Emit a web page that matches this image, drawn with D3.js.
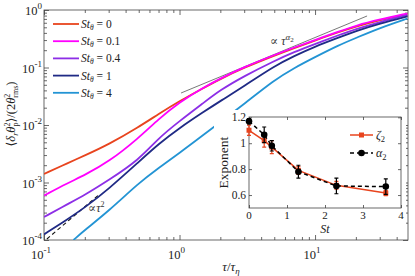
<!DOCTYPE html>
<html>
<head>
<meta charset="utf-8">
<script src="https://cdn.jsdelivr.net/npm/d3@7"></script>
<style>
  body { margin: 0; background: #fff; }
  svg { display: block; font-family: "Liberation Serif", "DejaVu Serif", serif; }
</style>
</head>
<body>
<script>
// time lags tau / tau_eta
var tau = [0.1, 0.15, 0.2, 0.3, 0.5, 0.7, 1, 1.5, 2, 3, 5, 7, 10, 15, 20, 30, 48];
var st0  = [1.41e-3, 2.18e-3, 2.95e-3, 4.58e-3, 9.23e-3, 1.55e-2, 2.61e-2, 4.40e-2, 6.31e-2, 0.0995, 0.161, 0.218, 0.295, 0.414, 0.516, 0.670, 0.851];
var st01 = [5.94e-4, 9.8e-4, 1.35e-3, 2.28e-3, 5.94e-3, 1.27e-2, 2.51e-2, 4.49e-2, 6.44e-2, 0.102, 0.165, 0.223, 0.301, 0.423, 0.537, 0.684, 0.869];
var st04 = [2.51e-4, 4.23e-4, 6.07e-4, 1.10e-3, 2.46e-3, 5.94e-3, 1.17e-2, 2.42e-2, 4.06e-2, 7.11e-2, 0.130, 0.186, 0.256, 0.367, 0.468, 0.618, 0.818];
var st1  = [1.25e-4, 2.32e-4, 3.67e-4, 7.70e-4, 2.28e-3, 4.68e-3, 8.87e-3, 1.68e-2, 2.61e-2, 4.76e-2, 0.106, 0.158, 0.232, 0.333, 0.432, 0.582, 0.771];
// St = 4 enters the plot later
var tau4 = [0.165, 0.2, 0.3, 0.5, 0.7, 1, 1.5, 2, 3, 5, 7, 10, 15, 20, 30, 48];
var st4  = [1e-4, 1.49e-4, 3.19e-4, 9.8e-4, 1.79e-3, 3.26e-3, 6.70e-3, 1.13e-2, 2.32e-2, 6.07e-2, 9.8e-2, 0.152, 0.246, 0.326, 0.486, 0.711];

var legendLabels = ["0", "0.1", "0.4", "1", "4"];
var colors = ["#e8441e", "#ff00ff", "#8d2ee6", "#1f2a85", "#2394d4"];

// guide lines
var tauSlope2 = [0.105, 0.26];
var valSlope2 = [1.04e-4, 6.4e-4];
var tauAlpha = [1.026, 24.2];
var valAlpha = [0.036, 0.787];

var xMajor = [0.1, 1, 10];
var xMajorExp = ["-1", "0", "1"];
var yMajor = [1e-4, 1e-3, 1e-2, 1e-1, 1];
var yMajorExp = ["-4", "-3", "-2", "-1", "0"];

// inset: exponents vs St
var stInset = [0, 0.4, 0.6, 1.3, 2.3, 3.6];
var zeta2 = [1.10, 1.02, 0.97, 0.79, 0.675, 0.615];
var zeta2Err = [0.04, 0.05, 0.05, 0.03, 0.03, 0.02];
var alpha2 = [1.17, 1.065, 0.98, 0.78, 0.67, 0.665];
var alpha2Err = [0.02, 0.06, 0.04, 0.05, 0.06, 0.06];
var insetXTicks = [0, 1, 2, 3, 4];
var insetYTicks = [0.6, 0.8, 1, 1.2];

var W = 415, H = 276;
var L = 44, R = 408, T = 10, B = 240;

var svg = d3.select("body").append("svg")
    .attr("width", W)
    .attr("height", H);

var x = d3.scaleLog().domain([0.1, 48.5]).range([L, R]);
var y = d3.scaleLog().domain([1e-4, 1]).range([B, T]);

// minor ticks in every decade
var xMinor = [], yMinor = [];
[0.1, 1, 10].forEach(function(d) {
    for (var k = 2; k <= 9; k++) if (d * k < 48.5) xMinor.push(d * k);
});
[1e-4, 1e-3, 1e-2, 1e-1].forEach(function(d) {
    for (var k = 2; k <= 9; k++) yMinor.push(d * k);
});

svg.append("clipPath").attr("id", "clip")
    .append("rect").attr("x", L).attr("y", T).attr("width", R - L).attr("height", B - T);

var axisColor = "#444";

function ticks(g) {
    g.select(".domain").remove();
    g.selectAll("line").attr("stroke", axisColor).attr("stroke-width", 0.8);
}

svg.append("g").attr("transform", "translate(0," + B + ")")
    .call(d3.axisBottom(x).tickValues(xMajor).tickSize(-5).tickFormat("")).call(ticks);
svg.append("g").attr("transform", "translate(0," + B + ")")
    .call(d3.axisBottom(x).tickValues(xMinor).tickSize(-3).tickFormat("")).call(ticks);
svg.append("g").attr("transform", "translate(0," + T + ")")
    .call(d3.axisTop(x).tickValues(xMajor).tickSize(-5).tickFormat("")).call(ticks);
svg.append("g").attr("transform", "translate(0," + T + ")")
    .call(d3.axisTop(x).tickValues(xMinor).tickSize(-3).tickFormat("")).call(ticks);
svg.append("g").attr("transform", "translate(" + L + ",0)")
    .call(d3.axisLeft(y).tickValues(yMajor).tickSize(-5).tickFormat("")).call(ticks);
svg.append("g").attr("transform", "translate(" + L + ",0)")
    .call(d3.axisLeft(y).tickValues(yMinor).tickSize(-3).tickFormat("")).call(ticks);
svg.append("g").attr("transform", "translate(" + R + ",0)")
    .call(d3.axisRight(y).tickValues(yMajor).tickSize(-5).tickFormat("")).call(ticks);
svg.append("g").attr("transform", "translate(" + R + ",0)")
    .call(d3.axisRight(y).tickValues(yMinor).tickSize(-3).tickFormat("")).call(ticks);

svg.append("rect")
    .attr("x", L).attr("y", T).attr("width", R - L).attr("height", B - T)
    .attr("fill", "none").attr("stroke", axisColor).attr("stroke-width", 0.8);

// tick labels 10^n
xMajor.forEach(function(d, i) {
    var t = svg.append("text").attr("x", x(d) - 3).attr("y", 259)
        .attr("text-anchor", "middle").attr("font-size", 12.5).attr("fill", "#222");
    t.append("tspan").text("10");
    t.append("tspan").attr("dy", -6).attr("font-size", 9).text(xMajorExp[i]);
});
yMajor.forEach(function(d, i) {
    var t = svg.append("text").attr("x", 42).attr("y", y(d) + 5)
        .attr("text-anchor", "end").attr("font-size", 12.5).attr("fill", "#222");
    t.append("tspan").text("10");
    t.append("tspan").attr("dy", -6).attr("font-size", 9).text(yMajorExp[i]);
});

// axis labels
var xl = svg.append("text").attr("x", 231).attr("y", 271)
    .attr("text-anchor", "middle").attr("font-size", 13).attr("fill", "#222");
xl.append("tspan").attr("font-style", "italic").text("τ");
xl.append("tspan").text("/");
xl.append("tspan").attr("font-style", "italic").text("τ");
xl.append("tspan").attr("dy", 3).attr("font-size", 9).attr("font-style", "italic").text("η");

var yl = svg.append("text")
    .attr("transform", "translate(15,114) rotate(-90)")
    .attr("text-anchor", "middle").attr("font-size", 12.5).attr("fill", "#222");
yl.append("tspan").text("⟨");
yl.append("tspan").attr("font-style", "italic").text("δ");
yl.append("tspan").attr("dy", 3).attr("font-size", 8).attr("font-style", "italic").text("r");
yl.append("tspan").attr("dy", -3).attr("font-style", "italic").text("θ");
yl.append("tspan").attr("dy", -5).attr("font-size", 8).text("2");
yl.append("tspan").attr("dx", -4).attr("dy", 8).attr("font-size", 8).text("p");
yl.append("tspan").attr("dy", -3).text("⟩/(2");
yl.append("tspan").attr("font-style", "italic").text("θ");
yl.append("tspan").attr("dy", -5).attr("font-size", 8).text("2");
yl.append("tspan").attr("dx", -4).attr("dy", 8).attr("font-size", 8).text("rms");
yl.append("tspan").attr("dy", -3).text(")");

// curves
var series = [
    { t: tau, v: st0 },
    { t: tau, v: st01 },
    { t: tau, v: st04 },
    { t: tau, v: st1 },
    { t: tau4, v: st4 }
];

var line = d3.line()
    .x(function(d) { return x(d[0]); })
    .y(function(d) { return y(d[1]); })
    .curve(d3.curveBasis);

var plot = svg.append("g").attr("clip-path", "url(#clip)");

// slope guides
plot.append("path")
    .datum(d3.zip(tauSlope2, valSlope2))
    .attr("d", line)
    .attr("fill", "none").attr("stroke", "#111").attr("stroke-width", 1.1)
    .attr("stroke-dasharray", "4,3");
plot.append("path")
    .datum(d3.zip(tauAlpha, valAlpha))
    .attr("d", line)
    .attr("fill", "none").attr("stroke", "#555").attr("stroke-width", 0.8);

plot.selectAll(".curve")
    .data(series)
    .enter()
    .append("path")
    .attr("class", "curve")
    .attr("d", function(d) { return line(d3.zip(d.t, d.v)); })
    .attr("fill", "none")
    .attr("stroke", function(d, i) { return colors[i]; })
    .attr("stroke-width", 1.8);

// guide labels
var g2 = svg.append("text").attr("x", 88).attr("y", 212).attr("font-size", 12).attr("fill", "#333");
g2.append("tspan").text("∝");
g2.append("tspan").attr("font-style", "italic").text("τ");
g2.append("tspan").attr("dy", -5).attr("font-size", 8).text("2");

var ga = svg.append("text").attr("x", 270).attr("y", 45).attr("font-size", 12).attr("fill", "#333");
ga.append("tspan").text("∝ ");
ga.append("tspan").attr("font-style", "italic").text("τ");
ga.append("tspan").attr("dy", -5).attr("font-size", 9).attr("font-style", "italic").text("α");
ga.append("tspan").attr("dy", 2).attr("font-size", 7).text("2");

// legend
var leg = svg.selectAll(".leg")
    .data(legendLabels)
    .enter()
    .append("g")
    .attr("class", "leg")
    .attr("transform", function(d, i) { return "translate(53," + (24 + i * 17.2) + ")"; });
leg.append("line")
    .attr("x1", 0).attr("x2", 26)
    .attr("stroke", function(d, i) { return colors[i]; })
    .attr("stroke-width", 1.8);
leg.each(function(d) {
    var t = d3.select(this).append("text").attr("x", 28).attr("y", 4)
        .attr("font-size", 11.5).attr("fill", "#222");
    t.append("tspan").attr("font-style", "italic").text("St");
    t.append("tspan").attr("dy", 2).attr("font-size", 7.5).attr("font-style", "italic").text("θ");
    t.append("tspan").attr("dy", -2).text(" = " + d);
});

// ---- inset ----
var iL = 249, iR = 401, iT = 117, iB = 208;
var ix = d3.scaleLinear().domain([0, 4]).range([iL, iR]);
var iy = d3.scaleLinear().domain([0.5, 1.2]).range([iB, iT + 0.3]);

svg.append("rect")
    .attr("x", 214).attr("y", 110).attr("width", 192).attr("height", 124)
    .attr("fill", "#fff");

svg.append("g").attr("transform", "translate(0," + iB + ")")
    .call(d3.axisBottom(ix).tickValues(insetXTicks).tickSize(-3).tickFormat("")).call(ticks);
svg.append("g").attr("transform", "translate(0," + iT + ")")
    .call(d3.axisTop(ix).tickValues(insetXTicks).tickSize(-3).tickFormat("")).call(ticks);
svg.append("g").attr("transform", "translate(" + iL + ",0)")
    .call(d3.axisLeft(iy).tickValues(insetYTicks).tickSize(-3).tickFormat("")).call(ticks);
svg.append("g").attr("transform", "translate(" + iR + ",0)")
    .call(d3.axisRight(iy).tickValues(insetYTicks).tickSize(-3).tickFormat("")).call(ticks);
svg.append("rect")
    .attr("x", iL).attr("y", iT).attr("width", iR - iL).attr("height", iB - iT)
    .attr("fill", "none").attr("stroke", axisColor).attr("stroke-width", 0.8);

svg.selectAll(".ixl")
    .data(insetXTicks)
    .enter()
    .append("text")
    .attr("class", "ixl")
    .attr("x", function(d) { return ix(d); })
    .attr("y", 218.5)
    .attr("text-anchor", "middle").attr("font-size", 11).attr("fill", "#222")
    .text(function(d) { return d; });
svg.selectAll(".iyl")
    .data(insetYTicks)
    .enter()
    .append("text")
    .attr("class", "iyl")
    .attr("x", 246)
    .attr("y", function(d) { return iy(d) + 4; })
    .attr("text-anchor", "end").attr("font-size", 11.5).attr("fill", "#222")
    .text(function(d) { return d; });

svg.append("text")
    .attr("transform", "translate(228," + ((iT + iB) / 2) + ") rotate(-90)")
    .attr("text-anchor", "middle").attr("font-size", 13.5).attr("fill", "#222")
    .text("Exponent");
svg.append("text").attr("x", ix(2)).attr("y", 233)
    .attr("text-anchor", "middle").attr("font-size", 12).attr("font-style", "italic")
    .attr("fill", "#222").text("St");

var ins = svg.append("g");
var iline = d3.line()
    .x(function(d) { return ix(d[0]); })
    .y(function(d) { return iy(d[1]); });

var red = "#e8441e";

function errPath(d) {
    var cx = ix(d[0]), y1 = iy(d[1] - d[2]), y2 = iy(d[1] + d[2]);
    return "M" + cx + "," + y1 + "V" + y2 + "M" + (cx - 2) + "," + y1 + "H" + (cx + 2) + "M" + (cx - 2) + "," + y2 + "H" + (cx + 2);
}

// zeta_2
ins.append("path").datum(d3.zip(stInset, zeta2)).attr("d", iline)
    .attr("fill", "none").attr("stroke", red).attr("stroke-width", 1.5);
ins.selectAll(".zerr")
    .data(d3.zip(stInset, zeta2, zeta2Err))
    .enter()
    .append("path")
    .attr("class", "zerr")
    .attr("d", errPath)
    .attr("stroke", red).attr("stroke-width", 1.2).attr("fill", "none");
ins.selectAll(".zpt")
    .data(d3.zip(stInset, zeta2))
    .enter()
    .append("rect")
    .attr("x", function(d) { return ix(d[0]) - 2.5; })
    .attr("y", function(d) { return iy(d[1]) - 2.5; })
    .attr("width", 5).attr("height", 5)
    .attr("fill", red);

// alpha_2
ins.append("path").datum(d3.zip(stInset, alpha2)).attr("d", iline)
    .attr("fill", "none").attr("stroke", "#000").attr("stroke-width", 1.5)
    .attr("stroke-dasharray", "4,3");
ins.selectAll(".aerr")
    .data(d3.zip(stInset, alpha2, alpha2Err))
    .enter()
    .append("path")
    .attr("class", "aerr")
    .attr("d", errPath)
    .attr("stroke", "#000").attr("stroke-width", 1.2).attr("fill", "none");
ins.selectAll(".apt")
    .data(d3.zip(stInset, alpha2))
    .enter()
    .append("circle")
    .attr("cx", function(d) { return ix(d[0]); })
    .attr("cy", function(d) { return iy(d[1]); })
    .attr("r", 3.3)
    .attr("fill", "#000");

// inset legend
var il = svg.append("g").attr("transform", "translate(350,135)");
il.append("line").attr("x1", 0).attr("x2", 23).attr("stroke", red).attr("stroke-width", 1.5);
il.append("rect").attr("x", 9).attr("y", -2.5).attr("width", 5).attr("height", 5).attr("fill", red);
var zt = il.append("text").attr("x", 26).attr("y", 4).attr("font-size", 12).attr("fill", "#222");
zt.append("tspan").attr("font-style", "italic").text("ζ");
zt.append("tspan").attr("dy", 3).attr("font-size", 8.5).text("2");

var al = svg.append("g").attr("transform", "translate(350,153)");
al.append("line").attr("x1", 0).attr("x2", 23).attr("stroke", "#000").attr("stroke-width", 1.5)
    .attr("stroke-dasharray", "4,3");
al.append("circle").attr("cx", 11.5).attr("cy", 0).attr("r", 3.3).attr("fill", "#000");
var at = al.append("text").attr("x", 26).attr("y", 4).attr("font-size", 12).attr("fill", "#222");
at.append("tspan").attr("font-style", "italic").text("α");
at.append("tspan").attr("dy", 3).attr("font-size", 8.5).text("2");
</script>
</body>
</html>
